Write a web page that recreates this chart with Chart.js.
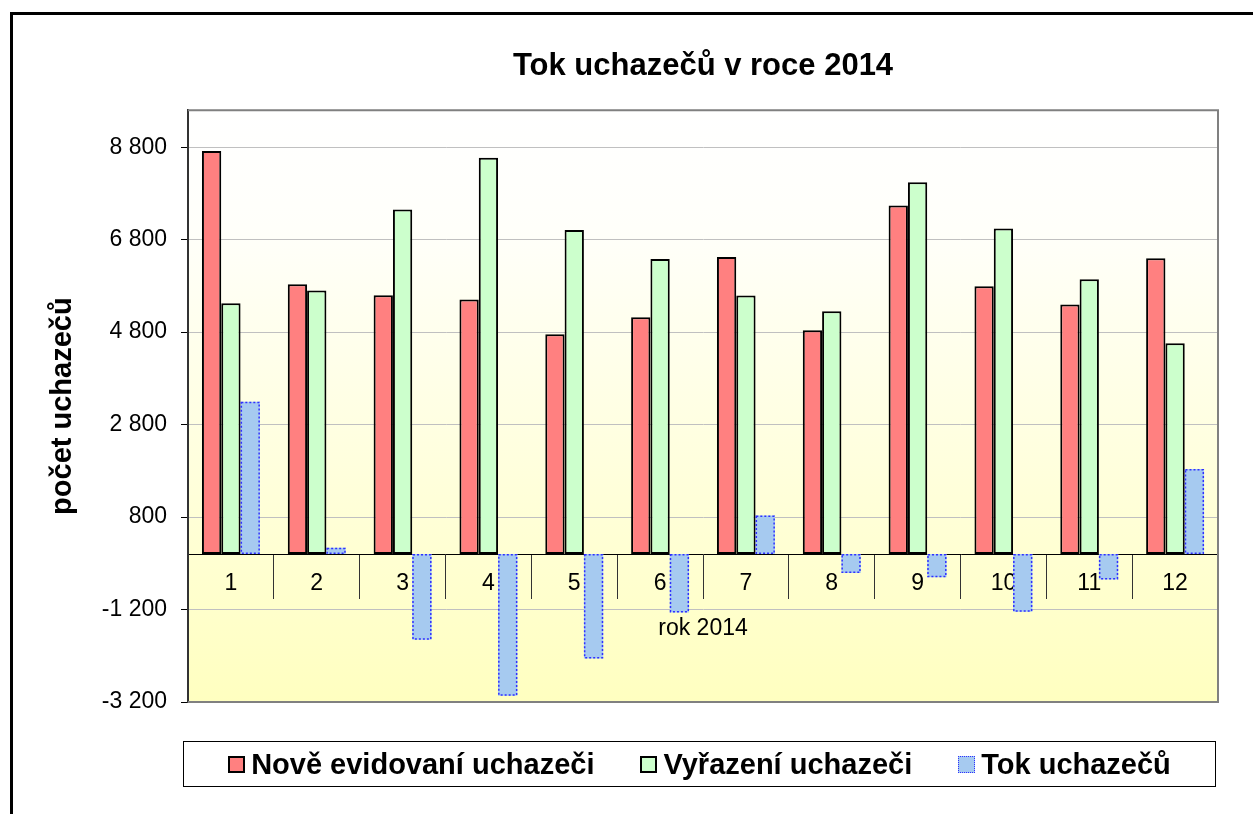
<!DOCTYPE html>
<html>
<head>
<meta charset="utf-8">
<title>Tok uchazečů v roce 2014</title>
<script src="https://cdn.jsdelivr.net/npm/chart.js@4.4.1/dist/chart.umd.min.js"></script>
<style>
html, body { margin: 0; padding: 0; background: #fff; overflow: hidden; }
#frame { position: absolute; left: 10px; top: 12px; width: 1400px; height: 900px; border: 3px solid #000; }
#chart { position: absolute; left: 0; top: 0; }
#legend {
    position: absolute; left: 183px; top: 741px; width: 1031px; height: 44px;
    border: 1px solid #000; display: flex; align-items: center; justify-content: center;
    font: bold 29px "Liberation Sans", Arial, sans-serif; color: #000;
}
#legend .item { display: flex; align-items: center; margin: 0 23px; white-space: nowrap; }
#legend .box { width: 13px; height: 13px; margin-right: 6px; }
</style>
</head>
<body>
<div id="frame"></div>
<canvas id="chart" width="1253" height="814"></canvas>
<div id="legend"></div>
<script>
// data
var months = ['1', '2', '3', '4', '5', '6', '7', '8', '9', '10', '11', '12'];
var noveEvidovani = [8720, 5835, 5597, 5504, 4753, 5121, 6426, 4840, 7539, 5792, 5396, 6398];
var vyrazeni = [5424, 5699, 7452, 8569, 7011, 6383, 5591, 5251, 8043, 7041, 5944, 4558];
var tokUchazecu = [3296, 136, -1855, -3065, -2258, -1262, 835, -411, -504, -1249, -548, 1840];
var yTicks = [-3200, -1200, 800, 2800, 4800, 6800, 8800];
var yMin = -3200;
var yMax = 9600;

var fontFamily = '"Liberation Sans", Arial, sans-serif';

function fmtNum(v) {
    var s = Math.abs(v).toString().replace(/\B(?=(\d{3})+(?!\d))/g, ' ');
    return (v < 0 ? '-' : '') + s;
}

// yellow gradient behind the plot area
var plotBackground = {
    id: 'plotBackground',
    beforeDraw: function (chart) {
        var a = chart.chartArea;
        var ctx = chart.ctx;
        var grad = ctx.createLinearGradient(0, a.top, 0, a.bottom);
        grad.addColorStop(0, '#ffffff');
        grad.addColorStop(0.2, '#fffffa');
        grad.addColorStop(1, '#ffffc0');
        ctx.save();
        ctx.fillStyle = grad;
        ctx.fillRect(a.left, a.top, a.right - a.left, a.bottom - a.top);
        ctx.restore();
    }
};

// dotted outline for the "Tok" bars, frame around plot area
var extras = {
    id: 'extras',
    afterDatasetsDraw: function (chart) {
        var ctx = chart.ctx;
        var meta = chart.getDatasetMeta(2);
        ctx.save();
        ctx.strokeStyle = '#3030ff';
        ctx.lineWidth = 1.5;
        ctx.setLineDash([2, 2]);
        meta.data.forEach(function (bar) {
            var p = bar.getProps(['x', 'y', 'base', 'width'], true);
            var top = Math.min(p.y, p.base);
            var h = Math.abs(p.base - p.y);
            ctx.strokeRect(p.x - p.width / 2 + 0.75, top + 0.75, p.width - 1.5, h - 1.5);
        });
        ctx.restore();
    },
    afterDraw: function (chart) {
        var a = chart.chartArea;
        var ctx = chart.ctx;
        ctx.save();
        ctx.strokeStyle = '#808080';
        ctx.lineWidth = 2;
        ctx.beginPath();
        ctx.moveTo(a.left, a.top);
        ctx.lineTo(a.right, a.top);
        ctx.lineTo(a.right, a.bottom);
        ctx.lineTo(a.left, a.bottom);
        ctx.stroke();
        ctx.restore();
    }
};

// legend built as html from the datasets
var htmlLegend = {
    id: 'htmlLegend',
    afterUpdate: function (chart) {
        var el = document.getElementById('legend');
        el.innerHTML = '';
        chart.data.datasets.forEach(function (ds) {
            var item = document.createElement('div');
            item.className = 'item';
            var box = document.createElement('span');
            box.className = 'box';
            box.style.background = ds.backgroundColor;
            if (ds.borderWidth) {
                box.style.border = '2px solid ' + ds.borderColor;
            } else {
                box.style.border = '1px dotted #3030ff';
                box.style.width = '15px';
                box.style.height = '15px';
            }
            var txt = document.createElement('span');
            txt.textContent = ds.label;
            item.appendChild(box);
            item.appendChild(txt);
            el.appendChild(item);
        });
    }
};

var ctx = document.getElementById('chart').getContext('2d');
new Chart(ctx, {
    type: 'bar',
    data: {
        labels: months,
        datasets: [{
            label: 'Nově evidovaní uchazeči',
            data: noveEvidovani,
            backgroundColor: '#ff8080',
            borderColor: '#000000',
            borderWidth: 2,
            borderSkipped: false
        }, {
            label: 'Vyřazení uchazeči',
            data: vyrazeni,
            backgroundColor: '#ccffcc',
            borderColor: '#000000',
            borderWidth: 2,
            borderSkipped: false
        }, {
            label: 'Tok uchazečů',
            data: tokUchazecu,
            backgroundColor: '#a6caf0',
            borderWidth: 0
        }]
    },
    options: {
        responsive: false,
        animation: false,
        datasets: {
            bar: { categoryPercentage: 0.675, barPercentage: 1 }
        },
        layout: {
            padding: { top: 0, left: 0, right: 35, bottom: 112 }
        },
        plugins: {
            legend: { display: false },
            tooltip: { enabled: false },
            title: {
                display: true,
                text: 'Tok uchazečů v roce 2014',
                fullSize: false,
                color: '#000',
                font: { family: fontFamily, size: 31, weight: 'bold' },
                padding: { top: 48, bottom: 25 }
            }
        },
        scales: {
            x: {
                position: { y: 0 },
                offset: true,
                grid: { offset: true, drawOnChartArea: false, tickLength: 44, tickColor: '#333', lineWidth: 1 },
                border: { color: '#000', width: 1 },
                ticks: {
                    color: '#000',
                    font: { family: fontFamily, size: 23 },
                    padding: -28,
                    maxRotation: 0,
                    minRotation: 0,
                    autoSkip: false
                },
                title: {
                    display: true,
                    text: 'rok 2014',
                    color: '#000',
                    font: { family: fontFamily, size: 23 },
                    padding: { top: 45, bottom: 0 }
                }
            },
            y: {
                min: yMin,
                max: yMax,
                afterBuildTicks: function (scale) {
                    scale.ticks = yTicks.map(function (v) { return { value: v }; });
                },
                afterFit: function (scale) {
                    scale.width = 188;
                },
                grid: { color: '#c0c0c0', tickColor: '#000', tickLength: 7, lineWidth: 1 },
                border: { color: '#333', width: 2 },
                ticks: {
                    color: '#000',
                    font: { family: fontFamily, size: 23 },
                    padding: 14,
                    callback: function (v) { return fmtNum(v); }
                },
                title: {
                    display: true,
                    text: 'počet uchazečů',
                    color: '#000',
                    font: { family: fontFamily, size: 29, weight: 'bold' },
                    padding: { top: 46, bottom: 0 }
                }
            }
        }
    },
    plugins: [plotBackground, extras, htmlLegend]
});
</script>
</body>
</html>
